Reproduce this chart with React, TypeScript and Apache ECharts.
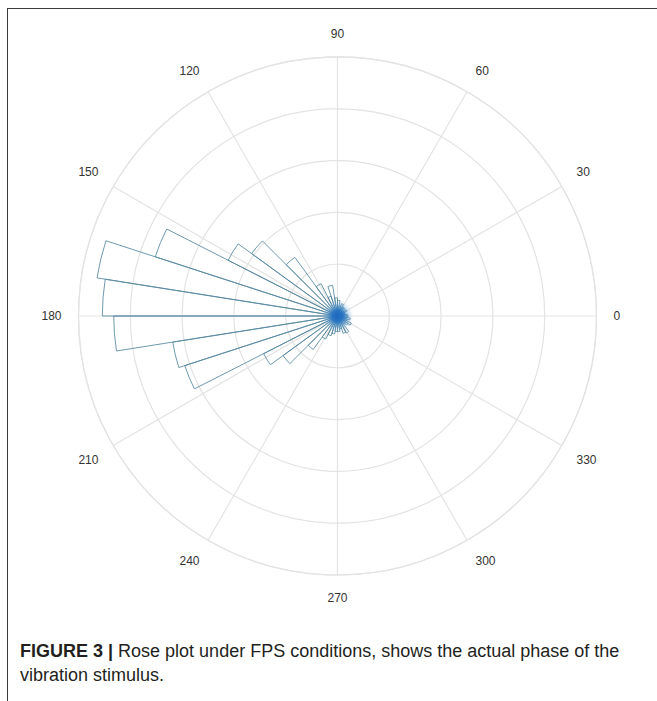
import React, { useEffect, useRef } from 'react';
import * as echarts from 'echarts';

// 40 bins of 9 degrees each (start angle of each bin, degrees)
const binStartDeg = [
  0, 9, 18, 27, 36, 45, 54, 63, 72, 81,
  90, 99, 108, 117, 126, 135, 144, 153, 162, 171,
  180, 189, 198, 207, 216, 225, 234, 243, 252, 261,
  270, 279, 288, 297, 306, 315, 324, 333, 342, 351,
];

// counts per bin
const binCounts = [
  2, 1.5, 1.5, 2, 1.5, 2, 2, 2.5, 2, 3,
  3.5, 6, 4, 7, 14, 20.5, 23.7, 37, 47, 45.4,
  43.2, 32.2, 31, 16, 13, 8, 5, 4, 3.5, 3,
  3, 2.5, 3.5, 3.7, 2, 2.5, 3, 2, 2.5, 2,
];

const angleTickLabels = ['0', '30', '60', '90', '120', '150', '180', '210', '240', '270', '300', '330'];
const radiusMax = 50;
const radiusInterval = 10;

const captionBold = 'FIGURE 3 |';
const captionLine1 = ' Rose plot under FPS conditions, shows the actual phase of the';
const captionLine2 = 'vibration stimulus.';

export default function App() {
  const ref = useRef<HTMLDivElement>(null);

  useEffect(() => {
    const chart = echarts.init(ref.current!, undefined, { renderer: 'svg' });
    const gridColor = '#e3e3e3';
    const center = [337.5, 316];
    const radius = 259;
    chart.setOption({
      animation: false,
      polar: [
        { center, radius },
        { center, radius },
      ],
      angleAxis: [
        {
          polarIndex: 0,
          type: 'value',
          min: 0,
          max: 360,
          interval: 30,
          startAngle: 0,
          clockwise: false,
          axisLine: { show: true, lineStyle: { color: gridColor, width: 1.2 } },
          axisTick: { show: false },
          axisLabel: {
            margin: 17,
            color: '#333',
            fontSize: 12,
            fontFamily: 'Liberation Sans, Arial, sans-serif',
            formatter: (v: number) => (v >= 360 ? '' : angleTickLabels[Math.round(v / 30)]),
          },
          splitLine: { show: true, lineStyle: { color: gridColor, width: 1.2 } },
        },
        {
          polarIndex: 1,
          type: 'category',
          data: binStartDeg.map(String),
          startAngle: 0,
          clockwise: false,
          boundaryGap: true,
          axisLine: { show: false },
          axisTick: { show: false },
          axisLabel: { show: false },
          splitLine: { show: false },
        },
      ],
      radiusAxis: [
        {
          polarIndex: 0,
          type: 'value',
          min: 0,
          max: radiusMax,
          interval: radiusInterval,
          axisLine: { show: false },
          axisTick: { show: false },
          axisLabel: { show: false },
          splitLine: { show: true, lineStyle: { color: gridColor, width: 1.2 } },
        },
        {
          polarIndex: 1,
          type: 'value',
          min: 0,
          max: radiusMax,
          interval: radiusInterval,
          axisLine: { show: false },
          axisTick: { show: false },
          axisLabel: { show: false },
          splitLine: { show: false },
        },
      ],
      series: [
        {
          type: 'bar',
          coordinateSystem: 'polar',
          polarIndex: 1,
          data: binCounts,
          barCategoryGap: '0%',
          itemStyle: {
            color: 'rgba(255,255,255,0)',
            borderColor: 'rgba(85,135,160,0.85)',
            borderWidth: 1,
          },
          z: 3,
        },
        {
          type: 'scatter',
          coordinateSystem: 'polar',
          polarIndex: 0,
          data: [[0, 0]],
          symbolSize: 32,
          itemStyle: {
            color: new echarts.graphic.RadialGradient(0.5, 0.5, 0.5, [
              { offset: 0, color: 'rgba(15,95,195,1)' },
              { offset: 0.35, color: 'rgba(25,110,205,0.95)' },
              { offset: 0.65, color: 'rgba(80,150,215,0.45)' },
              { offset: 1, color: 'rgba(140,190,230,0)' },
            ]),
          },
          z: 4,
        },
      ],
    });
    return () => chart.dispose();
  }, []);

  const captionStyle: React.CSSProperties = {
    position: 'absolute',
    left: 20,
    fontFamily: '"Liberation Sans", Arial, sans-serif',
    fontSize: 18,
    lineHeight: '24px',
    color: '#231f20',
    whiteSpace: 'nowrap',
  };

  return (
    <div style={{ position: 'fixed', left: 0, top: 0, width: 657, height: 701, background: '#fff', overflow: 'hidden' }}>
      <div style={{ position: 'absolute', left: 7, top: 8, width: 660, height: 700, borderLeft: '1.5px solid #3a3a3a', borderTop: '1.5px solid #3a3a3a' }} />
      <div ref={ref} style={{ position: 'absolute', left: 0, top: 0, width: 657, height: 625 }} />
      <div style={{ ...captionStyle, top: 639 }}>
        <span style={{ fontWeight: 'bold' }}>{captionBold}</span>
        <span>{captionLine1}</span>
      </div>
      <div style={{ ...captionStyle, top: 663 }}>{captionLine2}</div>
    </div>
  );
}
